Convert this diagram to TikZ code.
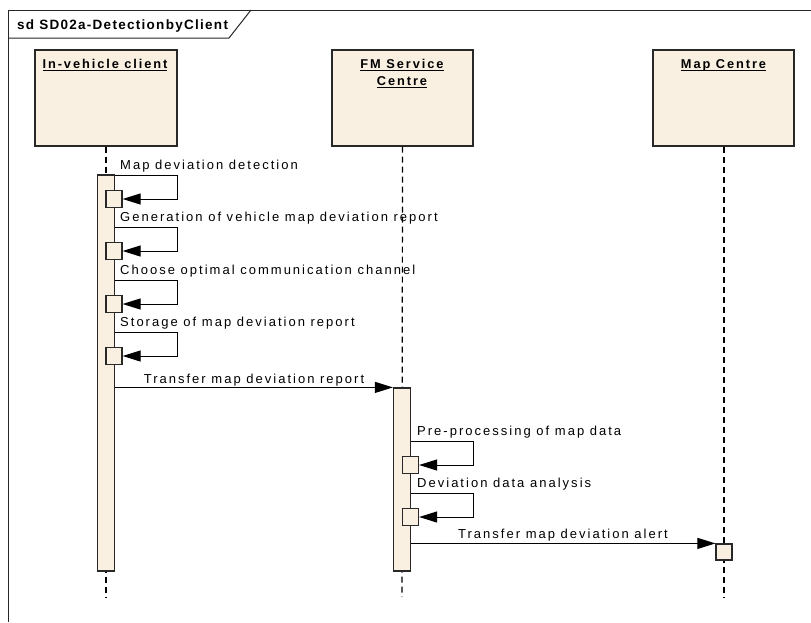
\documentclass[tikz,border=0pt]{standalone}
\usepackage{fontspec}
\setmainfont{Liberation Sans}
\newfontfamily\lblfont[LetterSpace=15.5]{Liberation Sans}
\newfontfamily\namefont[LetterSpace=15]{Liberation Sans}
\newfontfamily\titlefont[LetterSpace=9.5]{Liberation Sans}
\usetikzlibrary{arrows.meta}
\definecolor{lifefill}{RGB}{250,240,226}
\definecolor{edge}{RGB}{40,40,40}
\newcommand\ulname[1]{\setbox0\hbox{#1}\rlap{\rule[-3pt]{\wd0}{1.4pt}}\box0}
\tikzset{
  headbox/.style={draw=edge, line width=1.2pt, fill=lifefill, minimum height=96pt, inner sep=0pt},
  actbar/.style={draw=edge, line width=1.2pt, fill=lifefill, minimum width=17pt, inner sep=0pt},
  execbox/.style={draw=edge, line width=1.2pt, fill=lifefill, minimum width=16pt, minimum height=17.5pt, inner sep=0pt},
  lifeline/.style={draw=black, line width=1.2pt, dash pattern=on 6pt off 4pt},
  msg/.style={draw=black, line width=1pt, -{Triangle[length=18pt,width=11pt]}},
  lbl/.style={font=\lblfont\fontsize{13}{15}\selectfont, inner sep=0pt},
  namelbl/.style={font=\namefont\bfseries\fontsize{12.8}{15}\selectfont, inner sep=0pt, anchor=base},
  framestyle/.style={draw=black!85, line width=1pt}
}
\begin{document}
\begin{tikzpicture}[x=1pt,y=-1pt]
\useasboundingbox (0,0) rectangle (811,622);
% frame
\draw[framestyle] (811,10) -- (8,10) -- (8,622);
\draw[framestyle] (8,38) -- (229,38) -- (251,10);
\node[anchor=base west, inner sep=0pt, font=\titlefont\bfseries\fontsize{13.5}{16}\selectfont] (title) at (17,29) {sd SD02a-DetectionbyClient};

% heads
\node[headbox, minimum width=142pt] (h1) at (106,98) {};
\node[headbox, minimum width=141pt] (h2) at (402.5,98) {};
\node[headbox, minimum width=141pt] (h3) at (723.5,98) {};
\node[namelbl] (n1) at (105,68) {\ulname{In-v\kern2pt ehicle client}};
\node[namelbl] (n2a) at (402,68) {\ulname{FM Serv\kern2pt ice}};
\node[namelbl] (n2b) at (402,85) {\ulname{Centre}};
\node[namelbl] (n3) at (723.5,68) {\ulname{Map Centre}};

% lifelines
\coordinate (l1) at (106,597);
\coordinate (l2) at (402,597);
\coordinate (l3) at (724,597);
\draw[lifeline] (h1.south) -- (l1);
\draw[lifeline] (h2.south) -- (l2);
\draw[lifeline] (h3.south -| l3) -- (l3);

% activation bars
\node[actbar, minimum height=396pt] (b1) at (106,373) {};
\node[actbar, minimum height=183pt] (b2) at (402,479.5) {};

% self messages on client
\foreach \i/\t/\txt in {1/175/Map deviation detection,
                        2/227/Generation of vehicle map deviation report,
                        3/280/Choose optimal communication channel,
                        4/332/Storage of map deviation report}{
  \coordinate (s\i) at (b1.east |- 0,\t);
  \node[execbox] (e\i) at (114,\t+24) {};
  \draw[msg] (s\i) -- ++(62.5,0) |- (e\i.east);
  \node[lbl, anchor=base west] (t\i) at (120,\t-6) {\txt};
}

% transfer report
\coordinate (r1) at (b1.east |- b2.north);
\draw[msg] (r1) -- (b2.north west);
\node[lbl, anchor=base] (t5) at (254,383) {Transfer map deviation report};

% self messages on FM
\foreach \i/\t/\txt in {6/441/Pre-processing of map data,
                        7/493/Deviation data analysis}{
  \coordinate (s\i) at (b2.east |- 0,\t);
  \node[execbox] (e\i) at (410.5,\t+24) {};
  \draw[msg] (s\i) -- ++(62.5,0) |- (e\i.east);
  \node[lbl, anchor=base west] (t\i) at (417,\t-6) {\txt};
}

% transfer alert
\node[execbox, minimum height=16pt] (m3) at (724,552) {};
\coordinate (r2) at (b2.east |- m3.north);
\draw[msg] (r2) -- (m3.north west);
\node[lbl, anchor=base] (t8) at (563,538) {Transfer map deviation alert};
\end{tikzpicture}
\end{document}
